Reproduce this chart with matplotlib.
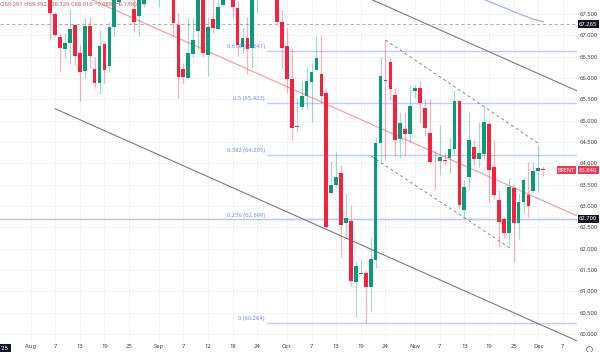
import matplotlib
matplotlib.use("Agg")
import matplotlib.pyplot as plt

plt.rcParams['font.family'] = ['Noto Sans', 'DejaVu Sans']

# bar number counted from the "Aug" tick, some bars sit above the visible range
bars = [4, 5, 6, 7, 8, 9, 10, 11, 12, 13, 14, 15, 16, 17, 18, 21, 22, 23, 26, 29,
        30, 31, 32, 33, 34, 35, 36, 37, 38, 39, 41, 42, 43, 44, 45, 46, 50, 51, 52, 53,
        54, 55, 56, 57, 58, 59, 60, 61, 62, 63, 64, 65, 66, 67, 68, 69, 70, 71, 72, 73,
        74, 75, 76, 77, 78, 79, 80, 81, 82, 83, 84, 85, 86, 87, 88, 89, 90, 91, 92, 93,
        94, 95, 96, 97, 98, 99, 100, 101, 102, 103, 104]
opens = [68.40, 67.50, 66.97, 66.68, 66.83, 67.25, 66.59, 66.17, 67.23, 66.21, 65.88, 66.80, 66.27, 67.20, 67.79, 67.62, 67.46, 67.74, 68.10, 68.20,
         67.24, 66.21, 66.01, 66.56, 67.09, 68.00, 66.54, 67.38, 67.15, 67.71, 68.00, 67.64, 66.73, 66.94, 66.70, 68.20, 68.00, 67.32, 66.74, 65.98,
         64.85, 65.31, 65.58, 65.91, 66.19, 66.10, 65.65, 63.31, 63.49, 63.78, 62.61, 62.66, 61.23, 61.41, 61.44, 61.11, 61.74, 64.47, 65.95, 66.38,
         65.60, 64.57, 64.81, 64.69, 65.70, 65.77, 65.30, 64.71, 64.04, 64.06, 64.08, 64.13, 64.34, 65.47, 62.91, 63.69, 64.39, 64.10, 64.22, 64.92,
         63.92, 63.14, 62.70, 62.37, 63.42, 62.60, 63.09, 63.26, 63.36, 63.83, 63.86]
highs = [68.60, 67.55, 67.06, 67.06, 67.62, 67.27, 66.78, 67.41, 67.43, 66.49, 67.13, 66.85, 67.32, 68.10, 68.20, 67.95, 68.10, 68.20, 68.50, 68.40,
         67.53, 66.35, 67.43, 67.43, 68.10, 68.20, 67.40, 67.85, 67.90, 68.10, 68.10, 67.80, 67.17, 67.43, 68.10, 68.50, 68.10, 67.60, 67.17, 66.70,
         65.53, 65.95, 66.26, 66.35, 66.99, 67.01, 65.77, 64.06, 64.27, 63.96, 63.31, 63.02, 61.72, 61.73, 61.50, 62.28, 64.62, 66.50, 66.89, 66.47,
         65.77, 65.21, 65.20, 65.84, 65.84, 65.94, 65.51, 65.51, 64.31, 64.90, 64.27, 64.62, 65.72, 65.49, 63.61, 65.21, 64.55, 64.98, 65.32, 64.97,
         64.55, 63.38, 62.74, 63.66, 63.49, 63.31, 63.68, 64.04, 64.04, 64.43, 63.94]
lows = [66.88, 66.99, 66.15, 66.47, 66.33, 66.31, 65.47, 66.00, 66.24, 65.77, 65.63, 65.88, 66.15, 66.99, 67.70, 67.08, 66.99, 67.67, 67.67, 66.99,
        65.53, 65.89, 66.00, 66.50, 66.66, 66.50, 66.05, 67.06, 67.13, 67.69, 67.43, 66.52, 66.59, 66.10, 66.24, 67.53, 67.29, 66.24, 65.65, 64.55,
        64.74, 65.25, 65.25, 64.98, 66.19, 65.42, 62.49, 63.28, 63.47, 61.81, 62.27, 61.13, 60.41, 61.40, 60.27, 60.55, 61.55, 64.01, 64.08, 65.49,
        64.17, 64.13, 64.17, 64.51, 65.53, 64.95, 64.63, 64.01, 63.38, 63.73, 63.96, 63.78, 64.20, 62.95, 62.72, 63.38, 63.96, 63.92, 64.08, 63.09,
        63.17, 62.05, 62.25, 62.09, 61.69, 62.23, 62.81, 62.75, 63.34, 63.34, 63.71]
closes = [67.53, 67.01, 66.70, 66.82, 67.16, 66.52, 66.13, 67.23, 66.52, 65.89, 66.74, 66.19, 67.20, 67.95, 68.10, 67.32, 67.95, 68.05, 68.30, 67.30,
          66.03, 66.03, 66.59, 66.89, 67.95, 66.59, 67.20, 67.17, 67.67, 68.00, 67.67, 66.78, 66.94, 66.68, 67.95, 68.40, 67.32, 66.70, 65.97, 64.83,
          64.88, 65.58, 65.94, 66.15, 66.47, 65.59, 62.52, 63.49, 63.69, 62.56, 62.72, 61.24, 61.60, 61.43, 61.10, 61.76, 64.48, 66.05, 65.93, 65.74,
          64.55, 64.95, 64.69, 65.35, 65.77, 65.41, 64.84, 64.04, 64.02, 64.15, 64.06, 64.34, 65.47, 63.02, 63.45, 64.55, 64.10, 64.25, 64.97, 63.85,
          63.26, 62.63, 62.37, 63.45, 62.60, 63.10, 63.61, 62.99, 63.83, 63.89, 63.84]

fib_levels = [66.641, 65.423, 64.205, 62.699, 60.264]
fib_names = ["0.618 (66.641)", "0.5 (65.423)", "0.382 (64.205)", "0.236 (62.699)", "0 (60.264)"]

price_ticks = [60.0, 60.5, 61.0, 61.5, 62.0, 62.5, 63.0, 63.5, 64.0, 64.5, 65.0, 65.5, 66.0, 66.5, 67.0, 67.5]
date_pos = [0, 5, 10, 15, 20, 26, 31, 36, 41, 46, 52, 57, 62, 67, 72, 78, 83, 88, 93, 98, 103, 108]
date_names = ["Aug", "7", "13", "19", "25", "Sep", "7", "12", "18", "24", "Oct", "7", "13", "19", "24",
              "Nov", "7", "13", "19", "25", "Dec", "7"]

# drawn lines as (bar, price) pairs
mid_x, mid_y = [10, 110.85], [67.96, 62.77]
upper_x, upper_y = [68, 110.85], [67.90, 65.70]
lower_x, lower_y = [5, 110.85], [65.28, 59.84]
dash1_x, dash1_y = [72, 103], [66.89, 64.47]
dash2_x, dash2_y = [69.1, 97.6], [64.17, 61.99]
curve_x = [92.2, 95.2, 98.6, 101.9, 104]
curve_y = [67.83, 67.69, 67.53, 67.38, 67.32]

last_price = 63.84
dash_price = 67.265
line_price = 62.70

RED = "#f7213f"
GREEN = "#0a9b7a"
BLUE = "#bccdf6"
TXT = "#3a3e49"

fig = plt.figure(figsize=(6, 3.52), dpi=100)
ax = fig.add_axes([0, 11 / 352, 576.7 / 600, 341 / 352])
ax.set_xlim(-6.19, 110.79)
ax.set_ylim(59.837, 67.828)
for s in ax.spines.values():
    s.set_visible(False)

ax.set_axisbelow(True)
ax.grid(True, color="#f3f4f6", lw=0.7)
ax.yaxis.tick_right()
ax.set_yticks(price_ticks)
ax.set_yticklabels(["%.3f" % p for p in price_ticks], fontsize=4.2, color=TXT)
ax.set_xticks(date_pos)
ax.set_xticklabels(date_names, fontsize=4.2, color=TXT)
ax.tick_params(length=0, pad=2.2)

ax.plot([-6.19, 110.79], [line_price, line_price], color="#c4c4c4", lw=1.0, zorder=1.5)
ax.plot([-6.19, 110.79], [dash_price, dash_price], color="#a5a5a5", lw=0.6, ls=(0, (4, 3)), zorder=1.5)

for lev, name in zip(fib_levels, fib_names):
    ax.plot([48, 110.85], [lev, lev], color=BLUE, lw=1.0, zorder=2)
    ax.text(47.5, lev + 0.03, name, fontsize=4.2, color="#6f8fe8", ha="right", va="bottom", zorder=1)

ax.plot(mid_x, mid_y, color="#f2a5a5", lw=0.9, zorder=2.5)
ax.plot(upper_x, upper_y, color="#7c7c7c", lw=0.8, zorder=2.5)
ax.plot(lower_x, lower_y, color="#7c7c7c", lw=0.8, zorder=2.5)
ax.plot(dash1_x, dash1_y, color="#8a8a8a", lw=0.7, ls=(0, (3, 3)), zorder=2.5)
ax.plot(dash2_x, dash2_y, color="#8a8a8a", lw=0.7, ls=(0, (3, 3)), zorder=2.5)
ax.plot(curve_x, curve_y, color="#9db4ec", lw=0.9, zorder=2.5)

for x, o, h, l, c in zip(bars, opens, highs, lows, closes):
    col = GREEN if c >= o else RED
    ax.plot([x, x], [l, h], color=col, alpha=0.35, lw=0.9, solid_capstyle="butt", zorder=3)
    ax.bar(x, abs(c - o), bottom=min(o, c), width=0.76, color=col, lw=0, zorder=4)

# header, OHLC of the last bar
ax.text(0.0, 0.988, "O69.201 H69.392 L68.329 C68.916 \u22120.089 (\u22120.13%)", transform=ax.transAxes,
        fontsize=4.2, color="#d9505f", va="center", ha="left", zorder=5)

# price tags on the right
box = dict(boxstyle="square,pad=0.25", fc="#131722", ec="none")
ax.text(1.0042, dash_price, "67.265", transform=ax.get_yaxis_transform(), fontsize=4.2, color="white",
        fontweight="bold", va="center", ha="left", bbox=box, clip_on=False, zorder=6)
ax.text(1.0042, line_price, "62.700", transform=ax.get_yaxis_transform(), fontsize=4.2, color="white",
        fontweight="bold", va="center", ha="left", bbox=box, clip_on=False, zorder=6)
box2 = dict(boxstyle="square,pad=0.25", fc="#ee3a50", ec="none")
ax.text(1.0042, last_price, "63.840", transform=ax.get_yaxis_transform(), fontsize=4.2, color="white",
        fontweight="bold", va="center", ha="left", bbox=box2, clip_on=False, zorder=6)
ax.text(0.997, last_price, "BRENT", transform=ax.get_yaxis_transform(), fontsize=3.9, color="white",
        fontweight="bold", va="center", ha="right", bbox=box2, clip_on=False, zorder=6)

fig.text(1 / 600, 1 - 348.5 / 352, "'25", fontsize=4.2, color="white", fontweight="bold", va="center", ha="left",
         bbox=dict(boxstyle="square,pad=0.35", fc="#131722", ec="none"))
fig.add_artist(plt.Line2D([589 / 600], [1 - 348.5 / 352], marker="o", ms=4.2, mfc="none", mec="#555a66", mew=0.5,
                          transform=fig.transFigure))

fig.savefig("out.png", dpi=100)
